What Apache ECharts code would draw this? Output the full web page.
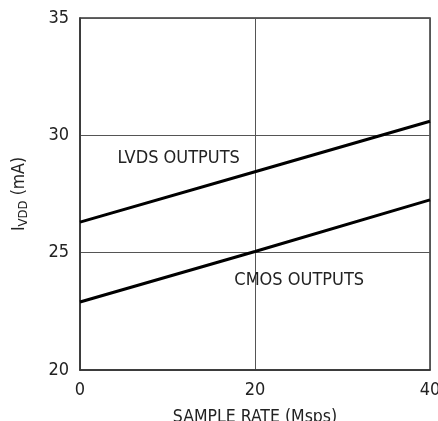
<!DOCTYPE html>
<html><head><meta charset="utf-8">
<script src="https://cdn.jsdelivr.net/npm/echarts@6/dist/echarts.min.js"></script>
<style>html,body{margin:0;padding:0;background:#fff}#c{width:438px;height:421px}</style>
</head><body><div id="c"></div>
<script>
const sampleRate = [0, 20, 40];
const lvdsCurrent = [26.3, 28.45, 30.6];
const cmosCurrent = [22.9, 25.05, 27.25];
const xTicks = [0, 20, 40];
const yTicks = [20, 25, 30, 35];
const FONT = '"DejaVu Sans Condensed", "Liberation Sans Narrow", "Liberation Sans", sans-serif';

const chart = echarts.init(document.getElementById('c'), null, {renderer: 'canvas'});
chart.setOption({
  animation: false,
  grid: {left: 80, right: 8, top: 18, bottom: 51, outerBoundsMode: 'none', containLabel: false,
         show: true, borderColor: '#333', borderWidth: 1.5, backgroundColor: 'transparent'},
  xAxis: {
    type: 'value', min: xTicks[0], max: xTicks[xTicks.length-1], interval: 20,
    axisLine: {show: true, lineStyle: {color: '#333', width: 1.5}},
    axisTick: {show: false},
    splitLine: {show: true, lineStyle: {color: '#555', width: 1}},
    axisLabel: {color: '#222', fontSize: 18, fontFamily: FONT, margin: 11},
    name: 'SAMPLE RATE (Msps)', nameLocation: 'middle', nameGap: 38,
    nameTextStyle: {color: '#222', fontSize: 17.5, fontFamily: FONT}
  },
  yAxis: {
    type: 'value', min: yTicks[0], max: yTicks[yTicks.length-1], interval: 5,
    axisLine: {show: true, lineStyle: {color: '#333', width: 1.5}},
    axisTick: {show: false},
    splitLine: {show: true, lineStyle: {color: '#555', width: 1}},
    axisLabel: {color: '#222', fontSize: 18, fontFamily: FONT, margin: 11},
    name: '{i|I}{s|VDD}{i| (mA)}', nameLocation: 'middle', nameGap: 50, nameRotate: 90,
    nameTextStyle: {
      color: '#222', fontFamily: FONT,
      rich: {
        i: {fontSize: 17.5, fontFamily: FONT, color: '#222'},
        s: {fontSize: 13, fontFamily: FONT, color: '#222', padding: [8, 0, 0, 0]}
      }
    }
  },
  series: [
    {name: 'LVDS OUTPUTS', type: 'line', data: sampleRate.map((x, i) => [x, lvdsCurrent[i]]),
     showSymbol: false, lineStyle: {color: '#000', width: 3}, silent: true,
     markPoint: {symbol: 'circle', symbolSize: 0, itemStyle: {color: 'transparent'},
       label: {show: true, position: 'inside', formatter: 'LVDS OUTPUTS', color: '#222', fontSize: 18, fontFamily: FONT},
       data: [{coord: [11.28, 29.0]}]}
    },
    {name: 'CMOS OUTPUTS', type: 'line', data: sampleRate.map((x, i) => [x, cmosCurrent[i]]),
     showSymbol: false, lineStyle: {color: '#000', width: 3}, silent: true,
     markPoint: {symbol: 'circle', symbolSize: 0, itemStyle: {color: 'transparent'},
       label: {show: true, position: 'inside', formatter: 'CMOS OUTPUTS', color: '#222', fontSize: 18, fontFamily: FONT},
       data: [{coord: [25.05, 23.82]}]}
    }
  ]
});
</script></body></html>
